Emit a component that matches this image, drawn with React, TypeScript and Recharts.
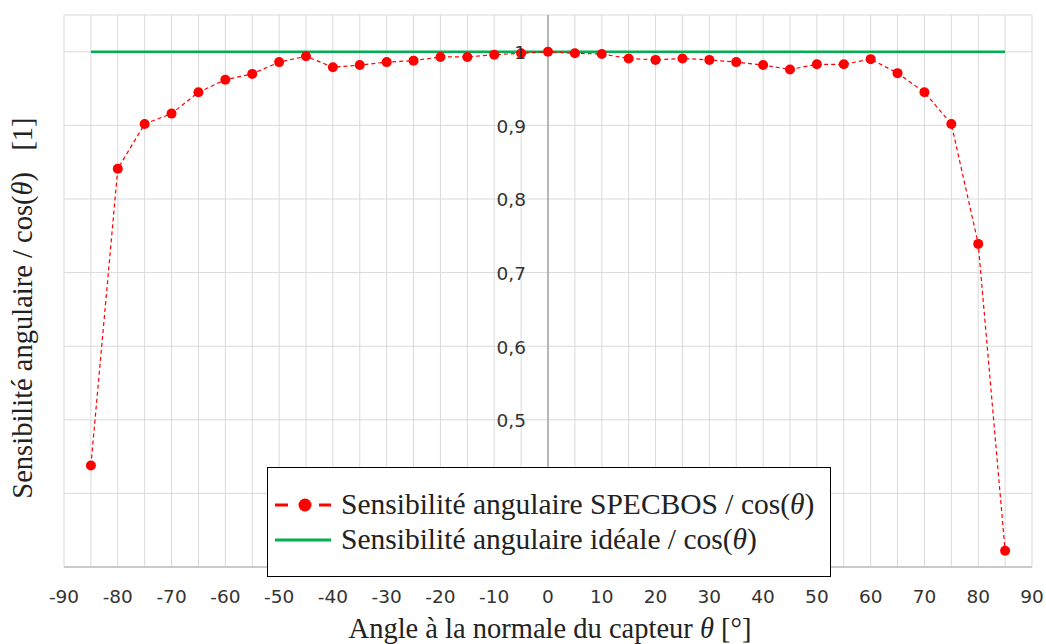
import React from 'react';
import { LineChart, Line, XAxis, YAxis, CartesianGrid, ReferenceLine, Legend } from 'recharts';

const ANGLES = [
    -85, -80, -75, -70, -65, -60, -55, -50, -45, -40, -35, -30, -25, -20, -15, -10, -5, 0,
    5, 10, 15, 20, 25, 30, 35, 40, 45, 50, 55, 60, 65, 70, 75, 80, 85,
];
const SPECBOS = [
    0.438, 0.841, 0.902, 0.916, 0.945, 0.962, 0.97, 0.986, 0.994, 0.979, 0.982, 0.986, 0.988,
    0.993, 0.993, 0.996, 0.998, 1.0, 0.998, 0.997, 0.991, 0.989, 0.991, 0.989, 0.986, 0.982,
    0.976, 0.983, 0.983, 0.99, 0.971, 0.945, 0.902, 0.739, 0.322,
];
const IDEAL_ANGLES = [-85, 85];
const IDEAL = [1, 1];

const X_TICKS = [
    -90, -85, -80, -75, -70, -65, -60, -55, -50, -45, -40, -35, -30, -25, -20, -15, -10, -5, 0,
    5, 10, 15, 20, 25, 30, 35, 40, 45, 50, 55, 60, 65, 70, 75, 80, 85, 90,
];
const Y_TICKS = [0.3, 0.4, 0.5, 0.6, 0.7, 0.8, 0.9, 1];

const measured = ANGLES.map((a, i) => ({ angle: a, value: SPECBOS[i] }));
const ideal = IDEAL_ANGLES.map((a, i) => ({ angle: a, value: IDEAL[i] }));

const W = 1046;
const H = 644;
const MARGIN = { top: 15, right: 14, bottom: 0, left: 0 };
const Y_AXIS_W = 64;
const X_AXIS_H = 77;
const X_MIN = -90;
const X_MAX = 90;
const PLOT_LEFT = MARGIN.left + Y_AXIS_W;
const PLOT_WIDTH = W - PLOT_LEFT - MARGIN.right;
const ZERO_X = PLOT_LEFT + ((0 - X_MIN) / (X_MAX - X_MIN)) * PLOT_WIDTH;

const SANS = '"DejaVu Sans", "Noto Sans", sans-serif';
const SERIF = '"Liberation Serif", "DejaVu Serif", serif';

const fmtY = (v: number) => (v === 1 ? '1' : v.toFixed(1).replace('.', ','));
const fmtX = (v: number) => (v % 10 === 0 ? String(v) : '');

const YTick = (props: any) => {
    const { y, payload } = props;
    return (
        <text x={ZERO_X - 22} y={y} dy="0.4em" textAnchor="end" fontFamily={SANS} fontSize={18.5} fill="#333">
            {fmtY(payload.value)}
        </text>
    );
};

const XTitle = (props: any) => {
    const vb = props.viewBox;
    return (
        <text x={vb.x + vb.width / 2 + 2} y={638} textAnchor="middle" fontFamily={SERIF} fontSize={28.5} fill="#222">
            Angle à la normale du capteur <tspan fontStyle="italic">θ</tspan> [°]
        </text>
    );
};

const YTitle = () => (
    <text
        x={32}
        y={308}
        transform="rotate(-90, 32, 308)"
        textAnchor="middle"
        fontFamily={SERIF}
        fontSize={28.5}
        fill="#222"
        style={{ whiteSpace: 'pre' }}
    >
        Sensibilité angulaire / cos(<tspan fontStyle="italic">θ</tspan>)   [1]
    </text>
);

const LegendBox = () => (
    <div
        style={{
            width: 564,
            height: 110,
            boxSizing: 'border-box',
            border: '1.5px solid #000',
            background: '#fff',
            fontFamily: SERIF,
            fontSize: 29.5,
            color: '#222',
            padding: '19px 0 0 7px',
            lineHeight: '35px',
            whiteSpace: 'nowrap',
        }}
    >
        <div style={{ display: 'flex', alignItems: 'center', height: 35 }}>
            <svg width={58} height={14} style={{ marginRight: 8 }}>
                <line x1={0} y1={7} x2={13} y2={7} stroke="#ff0000" strokeWidth={3} />
                <circle cx={30} cy={7} r={6.5} fill="#ff0000" />
                <line x1={44} y1={7} x2={56} y2={7} stroke="#ff0000" strokeWidth={3} />
            </svg>
            <span>
                Sensibilité angulaire SPECBOS / cos(<i>θ</i>)
            </span>
        </div>
        <div style={{ display: 'flex', alignItems: 'center', height: 35 }}>
            <svg width={58} height={14} style={{ marginRight: 8 }}>
                <line x1={0} y1={7} x2={56} y2={7} stroke="#00b050" strokeWidth={3} />
            </svg>
            <span>
                Sensibilité angulaire idéale / cos(<i>θ</i>)
            </span>
        </div>
    </div>
);

const App = () => {
    return (
        <div style={{ position: 'absolute', left: 0, top: 0, width: W, height: H, background: '#fff' }}>
            <LineChart width={W} height={H} margin={MARGIN}>
                <CartesianGrid stroke="#d9d9d9" strokeWidth={1} />
                <XAxis
                    type="number"
                    dataKey="angle"
                    domain={[X_MIN, X_MAX]}
                    ticks={X_TICKS}
                    interval={0}
                    tickFormatter={fmtX}
                    tickLine={false}
                    tickSize={0}
                    tickMargin={23}
                    height={X_AXIS_H}
                    axisLine={{ stroke: '#bfbfbf', strokeWidth: 1.5 }}
                    tick={{ fontFamily: SANS, fontSize: 18.5, fill: '#333' }}
                    label={<XTitle />}
                    allowDuplicatedCategory={false}
                />
                <YAxis
                    type="number"
                    domain={[0.3, 1.05]}
                    ticks={Y_TICKS}
                    interval={0}
                    width={Y_AXIS_W}
                    axisLine={false}
                    tickLine={false}
                    tick={<YTick />}
                    label={<YTitle />}
                />
                <ReferenceLine x={0} stroke="#808080" strokeWidth={1} />
                <Line
                    data={ideal}
                    dataKey="value"
                    type="linear"
                    stroke="#00b050"
                    strokeWidth={2.5}
                    dot={false}
                    isAnimationActive={false}
                    name="Sensibilité angulaire idéale / cos(θ)"
                />
                <Line
                    data={measured}
                    dataKey="value"
                    type="linear"
                    stroke="#ff0000"
                    strokeWidth={1.2}
                    strokeDasharray="4 3"
                    dot={{ r: 5, fill: '#ff0000', stroke: 'none' }}
                    isAnimationActive={false}
                    name="Sensibilité angulaire SPECBOS / cos(θ)"
                />
                <Legend
                    layout="vertical"
                    align="center"
                    verticalAlign="middle"
                    content={<LegendBox />}
                    wrapperStyle={{ left: 267, top: 467, width: 564, height: 110 }}
                />
            </LineChart>
        </div>
    );
};

export default App;
